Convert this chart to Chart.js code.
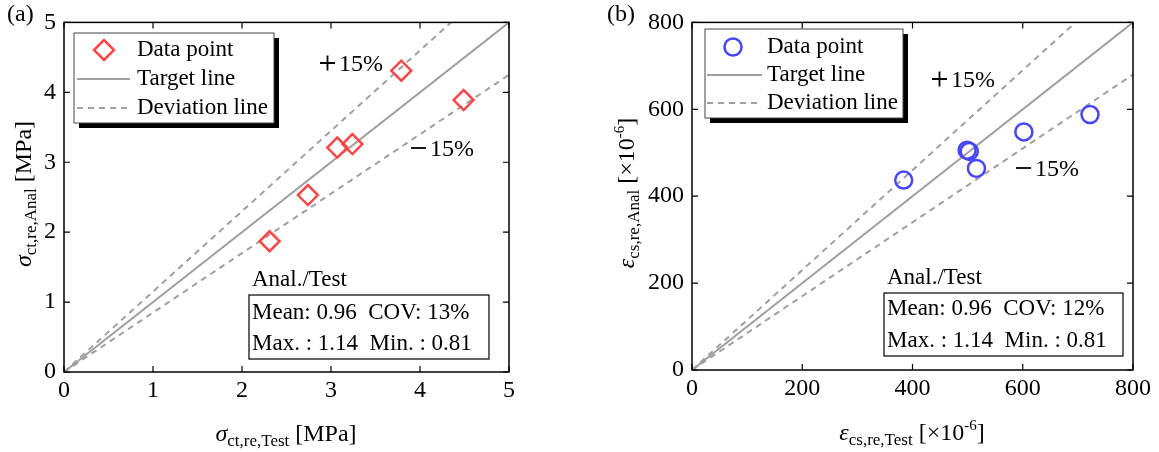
<!DOCTYPE html>
<html>
<head>
<meta charset="utf-8">
<script src="https://cdn.jsdelivr.net/npm/chart.js@4.4.0/dist/chart.umd.min.js"></script>
<style>
  body { margin: 0; background: #fff; width: 1159px; height: 452px; overflow: hidden; position: relative; }
  canvas { position: absolute; top: 0; }
  #chartA { left: 0; }
  #chartB { left: 580px; }
</style>
</head>
<body>
<canvas id="chartA" width="580" height="452"></canvas>
<canvas id="chartB" width="579" height="452"></canvas>
<script>
// ---- data (a): tensile stress [MPa] ----
var testA = [2.31, 2.74, 3.07, 3.24, 3.79, 4.49];
var analA = [1.87, 2.53, 3.21, 3.26, 4.31, 3.89];
var ticksA = [0, 1, 2, 3, 4, 5];
// ---- data (b): shrinkage strain [x10^-6] ----
var testB = [384, 499, 503, 516, 602, 722];
var analB = [437, 506, 503, 464, 548, 588];
var ticksB = [0, 200, 400, 600, 800];

var deviation = 0.15;
var legendLabels = ['Data point', 'Target line', 'Deviation line'];
var statsHead = 'Anal./Test';
var statsA = ['Mean: 0.96  COV: 13%', 'Max. : 1.14  Min. : 0.81'];
var statsB = ['Mean: 0.96  COV: 12%', 'Max. : 1.14  Min. : 0.81'];

var SERIF = "'Liberation Serif', 'DejaVu Serif', serif";
var GREY = 'rgb(160,160,160)';

/*--decoration plugin: frame, inward ticks, legend, stats, titles--*/
var decoPlugin = {
  id: 'deco',
  afterDraw: function (chart, args, o) {
    var ctx = chart.ctx, a = chart.chartArea;
    var xs = chart.scales.x, ys = chart.scales.y;
    ctx.save();

    // frame
    ctx.strokeStyle = '#000';
    ctx.lineWidth = 1.5;
    ctx.strokeRect(a.left, a.top, a.right - a.left, a.bottom - a.top);

    // inward ticks on all four sides
    ctx.lineWidth = 1.2;
    ctx.beginPath();
    o.ticks.forEach(function (v) {
      var px = xs.getPixelForValue(v), py = ys.getPixelForValue(v);
      ctx.moveTo(px, a.bottom); ctx.lineTo(px, a.bottom - 6);
      ctx.moveTo(px, a.top); ctx.lineTo(px, a.top + 6);
      ctx.moveTo(a.left, py); ctx.lineTo(a.left + 6, py);
      ctx.moveTo(a.right, py); ctx.lineTo(a.right - 6, py);
    });
    ctx.stroke();

    // legend with black shadow
    var L = o.legend;
    ctx.fillStyle = '#000';
    ctx.fillRect(L.x + 5, L.y + 5, L.w, L.h);
    ctx.fillStyle = '#fff';
    ctx.fillRect(L.x, L.y, L.w, L.h);
    ctx.strokeStyle = '#444';
    ctx.lineWidth = 1;
    ctx.strokeRect(L.x, L.y, L.w, L.h);

    ctx.strokeStyle = o.color;
    ctx.lineWidth = 2.5;
    ctx.beginPath();
    if (o.marker === 'diamond') {
      var r = 10;
      ctx.moveTo(L.markX - r, L.rows[0]); ctx.lineTo(L.markX, L.rows[0] - r);
      ctx.lineTo(L.markX + r, L.rows[0]); ctx.lineTo(L.markX, L.rows[0] + r);
      ctx.closePath();
    } else {
      ctx.arc(L.markX, L.rows[0], 8.5, 0, Math.PI * 2);
    }
    ctx.stroke();

    ctx.strokeStyle = GREY;
    ctx.lineWidth = 2;
    ctx.beginPath();
    ctx.moveTo(L.lineX0, L.rows[1]); ctx.lineTo(L.lineX1, L.rows[1]);
    ctx.stroke();
    ctx.setLineDash([6, 5]);
    ctx.beginPath();
    ctx.moveTo(L.lineX0, L.rows[2]); ctx.lineTo(L.lineX1, L.rows[2]);
    ctx.stroke();
    ctx.setLineDash([]);

    ctx.fillStyle = '#000';
    ctx.font = '23px ' + SERIF;
    ctx.textBaseline = 'middle';
    ctx.textAlign = 'left';
    legendLabels.forEach(function (t, i) { ctx.fillText(t, L.textX, L.rows[i]); });

    // statistics box
    var S = o.stats;
    ctx.fillText(statsHead, S.x + 3, S.headY);
    ctx.fillStyle = '#fff';
    ctx.fillRect(S.x, S.y, S.w, S.h);
    ctx.strokeStyle = '#000';
    ctx.lineWidth = 1.2;
    ctx.strokeRect(S.x, S.y, S.w, S.h);
    ctx.fillStyle = '#000';
    S.lines.forEach(function (t, i) { ctx.fillText(t, S.x + 3, S.rows[i]); });

    // +/-15% labels
    drawSigned(ctx, true, o.plus[0], o.plus[1]);
    drawSigned(ctx, false, o.minus[0], o.minus[1]);

    // panel label
    ctx.textBaseline = 'middle';
    ctx.font = '24px ' + SERIF;
    ctx.fillText(o.panel[0], o.panel[1], o.panel[2]);

    // axis titles
    drawRich(ctx, o.xTitle, o.xTitlePos[0], o.xTitlePos[1], 0);
    drawRich(ctx, o.yTitle, o.yTitlePos[0], o.yTitlePos[1], -Math.PI / 2);

    ctx.restore();
  }
};

// wide math sign followed by "15%"
function drawSigned(ctx, plus, x, base) {
  var cy = base - 8;
  ctx.strokeStyle = '#000';
  ctx.lineWidth = 1.8;
  ctx.beginPath();
  ctx.moveTo(x, cy); ctx.lineTo(x + 15, cy);
  if (plus) { ctx.moveTo(x + 7.5, cy - 7.5); ctx.lineTo(x + 7.5, cy + 7.5); }
  ctx.stroke();
  ctx.textBaseline = 'alphabetic';
  ctx.font = '24px ' + SERIF;
  ctx.fillText('15%', x + 19, base);
}

// pieces: [text, font, baseline shift]
function drawRich(ctx, pieces, cx, base, rot) {
  ctx.save();
  ctx.textBaseline = 'alphabetic';
  ctx.textAlign = 'left';
  var total = 0;
  pieces.forEach(function (p) { ctx.font = p[1]; total += ctx.measureText(p[0]).width; });
  if (rot) { ctx.translate(base, cx); ctx.rotate(rot); }
  else { ctx.translate(cx, base); }
  var x = -total / 2;
  pieces.forEach(function (p) {
    ctx.font = p[1];
    ctx.fillText(p[0], x, p[2]);
    x += ctx.measureText(p[0]).width;
  });
  ctx.restore();
}

function makeChart(id, test, anal, ticks, color, pointStyle, radius, yW, xH, padR, deco) {
  var maxV = ticks[ticks.length - 1];
  var pts = test.map(function (v, i) { return { x: v, y: anal[i] }; });
  deco.ticks = ticks;
  deco.color = color;
  return new Chart(document.getElementById(id).getContext('2d'), {
    type: 'scatter',
    data: {
      datasets: [
        {
          label: legendLabels[0],
          data: pts,
          pointStyle: pointStyle,
          pointRadius: radius,
          pointBorderWidth: 2.5,
          borderColor: color,
          backgroundColor: 'rgba(0,0,0,0)'
        },
        {
          label: legendLabels[1],
          data: [{ x: 0, y: 0 }, { x: maxV, y: maxV }],
          showLine: true, borderColor: GREY, borderWidth: 2, pointRadius: 0
        },
        {
          label: legendLabels[2],
          data: [{ x: 0, y: 0 }, { x: maxV / (1 + deviation), y: maxV }],
          showLine: true, borderColor: GREY, borderWidth: 2, borderDash: [6, 5], pointRadius: 0
        },
        {
          label: legendLabels[2],
          data: [{ x: 0, y: 0 }, { x: maxV, y: maxV * (1 - deviation) }],
          showLine: true, borderColor: GREY, borderWidth: 2, borderDash: [6, 5], pointRadius: 0
        }
      ]
    },
    options: {
      responsive: false,
      animation: false,
      layout: { padding: { left: 0, top: 15, right: padR, bottom: 0 } },
      plugins: { legend: { display: false }, tooltip: { enabled: false }, deco: deco },
      scales: {
        x: {
          type: 'linear', min: 0, max: maxV,
          grid: { display: false, drawTicks: false },
          border: { display: false },
          afterBuildTicks: function (s) { s.ticks = ticks.map(function (v) { return { value: v }; }); },
          afterFit: function (s) { s.height = xH; },
          ticks: { font: { family: SERIF, size: 24 }, color: '#000', padding: 4, maxRotation: 0 }
        },
        y: {
          type: 'linear', min: 0, max: maxV,
          grid: { display: false, drawTicks: false },
          border: { display: false },
          afterBuildTicks: function (s) { s.ticks = ticks.map(function (v) { return { value: v }; }); },
          afterFit: function (s) { s.width = yW; },
          ticks: { font: { family: SERIF, size: 24 }, color: '#000', padding: 8 }
        }
      }
    },
    plugins: [decoPlugin]
  });
}

/*--chart (a)--*/
makeChart('chartA', testA, analA, ticksA, 'rgb(255,70,70)', 'rectRot', 10, 64, 80, 71, {
  marker: 'diamond',
  legend: { x: 74, y: 33, w: 200, h: 90, rows: [50, 79, 108], markX: 104, lineX0: 77, lineX1: 130, textX: 137 },
  stats: { x: 249, y: 295, w: 240, h: 64, headY: 280, rows: [313, 343.5], lines: statsA },
  plus: [320, 71], minus: [411, 156],
  panel: ['(a)', 7, 15],
  xTitle: [['\u03c3', 'italic 24px ' + SERIF, 0], ['ct,re,Test', '17px ' + SERIF, 5], [' [MPa]', '24px ' + SERIF, 0]],
  xTitlePos: [286, 441],
  yTitle: [['\u03c3', 'italic 24px ' + SERIF, 0], ['ct,re,Anal', '17px ' + SERIF, 5], [' [MPa]', '24px ' + SERIF, 0]],
  yTitlePos: [194, 31]
});

/*--chart (b)--*/
makeChart('chartB', testB, analB, ticksB, 'rgb(70,70,255)', 'circle', 8.5, 112, 82, 26, {
  marker: 'circle',
  legend: { x: 125, y: 29, w: 198, h: 89, rows: [47, 75, 103], markX: 153, lineX0: 127, lineX1: 182, textX: 187 },
  stats: { x: 304, y: 293, w: 239, h: 63, headY: 278, rows: [309, 340.5], lines: statsB },
  plus: [352, 87], minus: [436, 176],
  panel: ['(b)', 27, 15],
  xTitle: [['\u03b5', 'italic 24px ' + SERIF, 0], ['cs,re,Test', '17px ' + SERIF, 5], [' [\u00d710', '24px ' + SERIF, 0], ['-6', '15px ' + SERIF, -10], [']', '24px ' + SERIF, 0]],
  xTitlePos: [332, 440],
  yTitle: [['\u03b5', 'italic 24px ' + SERIF, 0], ['cs,re,Anal', '17px ' + SERIF, 5], [' [\u00d710', '24px ' + SERIF, 0], ['-6', '15px ' + SERIF, -10], [']', '24px ' + SERIF, 0]],
  yTitlePos: [193, 54]
});
</script>
</body>
</html>
